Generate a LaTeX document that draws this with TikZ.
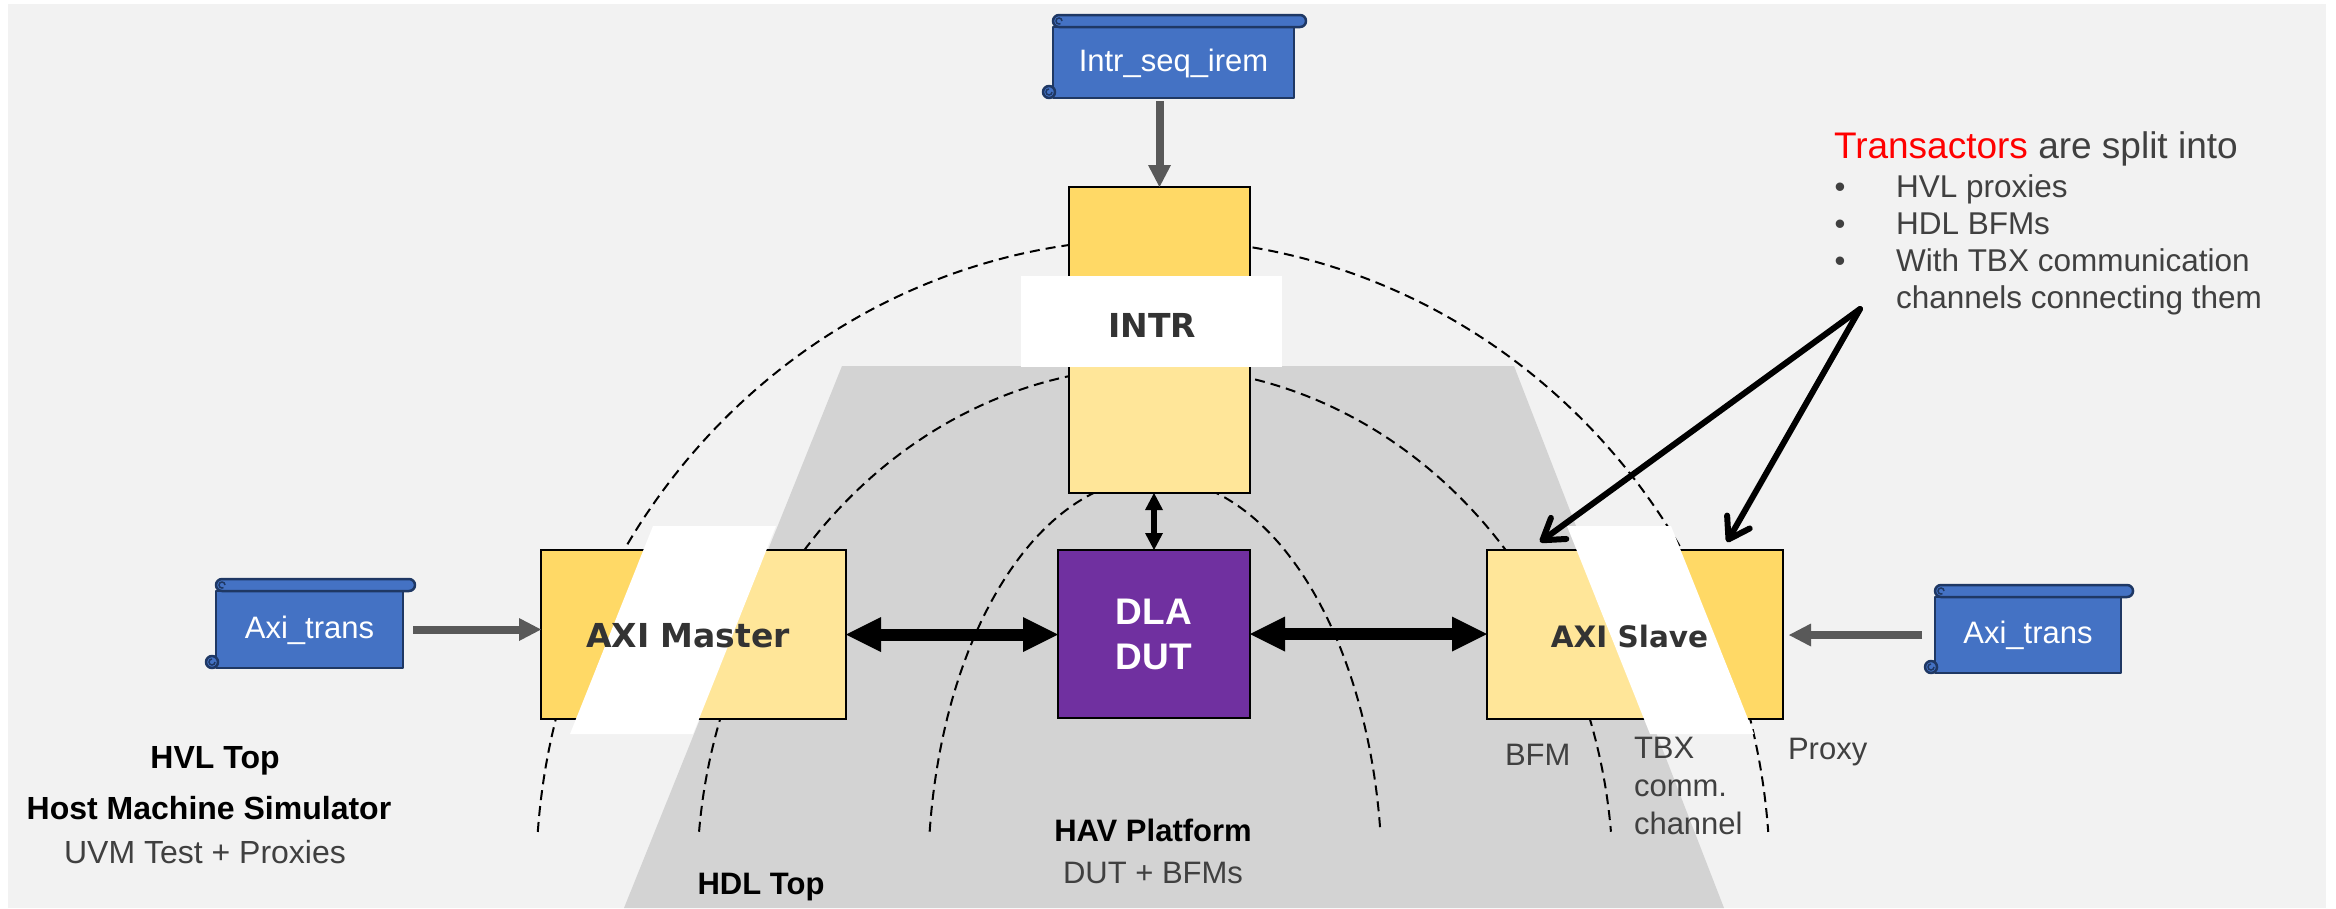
\documentclass[tikz,border=0pt]{standalone}
\usepackage{fontspec}
\setmainfont{Liberation Sans}
\newfontfamily\unitfont{DejaVu Sans}
\usetikzlibrary{arrows.meta,calc}

\definecolor{panelgray}{HTML}{F2F2F2}
\definecolor{hdlgray}{HTML}{D3D3D3}
\definecolor{proxyyellow}{HTML}{FFD966}
\definecolor{bfmyellow}{HTML}{FFE699}
\definecolor{dutpurple}{HTML}{7030A0}
\definecolor{scrollblue}{HTML}{4472C4}
\definecolor{scrollnavy}{HTML}{1F3864}
\definecolor{notegray}{HTML}{404040}
\definecolor{unitgray}{HTML}{333333}
\definecolor{feedgray}{HTML}{595959}

\newcommand\fsz[2]{\fontsize{#1}{#2}\selectfont}

% roll bar and curls of a horizontal scroll, drawn around its body node
\newcommand\scrollframe[1]{%
  \filldraw[scrollpart, rounded corners=6pt]
    ($(#1.north west)+(0,-12)$) rectangle ($(#1.north east)+(12,0)$);
  \draw[scrollnavy, line width=1.5pt]
    ($(#1.north west)+(9,-6)$) arc[start angle=0, end angle=300, radius=3pt];
  \filldraw[scrollpart] ($(#1.south west)+(-4,-6)$) circle[radius=6pt];
  \draw[scrollnavy, line width=1.5pt]
    ($(#1.south west)+(-1,-6)$) arc[start angle=0, end angle=-270, radius=3pt];
}

\tikzset{
  every node/.style={inner sep=0pt, outer sep=0pt},
  scrollpart/.style={fill=scrollblue, draw=scrollnavy, line width=2.5pt, line join=round},
  scrollbody/.style={scrollpart, text=white, font=\fsz{31}{37},
    text height=22pt, text depth=5pt},
  unitbox/.style={draw=black, line width=2pt},
  unitlabel/.style={anchor=base, text=unitgray, font=\unitfont\bfseries\fsz{33}{40}},
  plainlbl/.style={text=notegray, font=\fsz{31}{37}},
  boldlbl/.style={anchor=base, text=black, font=\bfseries\fsz{31}{37}},
  domainarc/.style={draw=black, line width=2pt, dash pattern=on 10pt off 6pt},
  feedarrow/.style={draw=feedgray, line width=8pt,
    -{Triangle[length=22pt,width=23pt,line width=0pt]}},
  busarrow/.style={draw=black, line width=12pt,
    {Triangle[length=35pt,width=35pt,line width=0pt]}-{Triangle[length=35pt,width=35pt,line width=0pt]}},
  linkarrow/.style={draw=black, line width=6pt,
    {Triangle[length=17pt,width=18pt,line width=0pt]}-{Triangle[length=17pt,width=18pt,line width=0pt]}},
  calloutarrow/.style={draw=black, line width=6pt, line cap=round,
    -{Straight Barb[length=20pt,width=26pt,line cap=round,line join=round]}},
}

\begin{document}
\begin{tikzpicture}[x=1pt, y=-1pt]
\useasboundingbox (0,0) rectangle (2336,908);
\fill[white] (0,0) rectangle (2336,908);
\fill[panelgray] (8,4) rectangle (2326,908);

% emulator (HDL) zone
\fill[hdlgray] (842,366) -- (1514,366) -- (1724,908) -- (624,908) -- cycle;

% domain boundaries
\draw[domainarc] plot[domain=184.3:355.7, samples=150, smooth]
  ({1153+617*cos(\x)}, {880+641*sin(\x)});
\draw[domainarc] plot[domain=185.4:354.6, samples=150, smooth]
  ({1155+458*cos(\x)}, {880+513*sin(\x)});
\draw[domainarc] plot[domain=186.9:353.1, samples=150, smooth]
  ({1155+227*cos(\x)}, {880+402*sin(\x)});

% proxy / BFM halves of the transactors
\fill[bfmyellow] (541,550) rectangle (846,719);
\fill[proxyyellow] (541,550) -- (705,550) -- (638,719) -- (541,719) -- cycle;
\fill[bfmyellow] (1487,550) rectangle (1783,719);
\fill[proxyyellow] (1629,550) -- (1783,550) -- (1783,719) -- (1696,719) -- cycle;
\fill[proxyyellow] (1069,187) rectangle (1250,321);
\fill[bfmyellow] (1069,321) rectangle (1250,493);

% units
\node[unitbox, minimum width=305, minimum height=169] (master) at (693.5,634.5) {};
\node[unitbox, minimum width=296, minimum height=169] (slave) at (1635,634.5) {};
\node[unitbox, minimum width=181, minimum height=306] (intr) at (1159.5,340) {};
\node[unitbox, fill=dutpurple, minimum width=192, minimum height=168, text=white,
  align=center, font=\bfseries\fsz{37}{45}] (dla) at (1154,634) {DLA\\DUT};

% TBX communication channels
\fill[white] (653,526) -- (776,526) -- (693,734) -- (570,734) -- cycle;
\fill[white] (1567,526) -- (1671,526) -- (1754,734) -- (1650,734) -- cycle;
\fill[white] (1021,276) rectangle (1282,367);

\node[unitlabel] (masterlbl) at (688,647) {AXI Master};
\node[unitlabel, font=\unitfont\bfseries\fsz{29.5}{36}] (slavelbl) at (1629.5,647) {AXI Slave};
\node[unitlabel] (intrlbl) at (1152,337) {INTR};

% sequence items
\node[scrollbody, minimum width=241, minimum height=71] (seq) at (1173.5,62.5) {Intr\_seq\_irem};
\scrollframe{seq}
\node[scrollbody, minimum width=187, minimum height=77] (axil) at (309.5,629.5) {Axi\_trans};
\scrollframe{axil}
\node[scrollbody, minimum width=186, minimum height=76] (axir) at (2028,635) {Axi\_trans};
\scrollframe{axir}

% connections
\coordinate (seqout) at ([yshift=-3pt]seq.south);
\draw[feedarrow] (seqout -| intr.north) -- (intr.north);
\coordinate (axilout) at ([xshift=10pt]axil.east);
\draw[feedarrow] (axilout) -- (axilout -| master.west);
\coordinate (axirout) at ([xshift=-13pt]axir.west);
\coordinate (slavein) at ([xshift=6pt]slave.east);
\draw[feedarrow] (axirout) -- (axirout -| slavein);
\draw[busarrow] (master.east) -- (master.east -| dla.west);
\draw[busarrow] (dla.east) -- (dla.east -| slave.west);
\draw[linkarrow] (dla.north |- intr.south) -- (dla.north);

% transactor note
\node[anchor=base west, text=notegray, font=\fsz{37}{44}] (txhead) at (1834,158)
  {\textcolor{red}{Transactors} are split into};
\node[plainlbl, anchor=base] (dot1) at (1840,197) {•};
\node[plainlbl, anchor=base west, font=\fsz{31.5}{37}] (item1) at (1896,197) {HVL proxies};
\node[plainlbl, anchor=base] (dot2) at (1840,234) {•};
\node[plainlbl, anchor=base west, font=\fsz{31.5}{37}] (item2) at (1896,234) {HDL BFMs};
\node[plainlbl, anchor=base] (dot3) at (1840,271) {•};
\node[plainlbl, anchor=base west, font=\fsz{31.5}{37}] (item3) at (1896,271) {With TBX communication};
\node[plainlbl, anchor=base west, font=\fsz{31.5}{37}] (item3b) at (1896,308) {channels connecting them};

\coordinate (tsrc) at (1860,309);
\coordinate (tipbfm) at (1540,542);
\coordinate (tipproxy) at (1727,542);
\draw[calloutarrow] (tsrc) -- (tipbfm);
\draw[calloutarrow] (tsrc) -- (tipproxy);

% part labels
\node[plainlbl, anchor=base west] (bfmlbl) at (1505,765) {BFM};
\node[plainlbl, anchor=north west, align=left, font=\fsz{31}{38}] (tbxlbl) at (1634,737)
  {TBX\\comm.\\channel};
\node[plainlbl, anchor=base west] (proxylbl) at (1788,759) {Proxy};

% domain labels
\node[boldlbl, font=\bfseries\fsz{32}{38}] (hvltop) at (215,768) {HVL Top};
\node[boldlbl, font=\bfseries\fsz{32}{38}] (hostsim) at (209,819) {Host Machine Simulator};
\node[plainlbl, anchor=base, font=\fsz{32}{38}] (uvmtest) at (205,863) {UVM Test + Proxies};
\node[boldlbl] (havplat) at (1153,841) {HAV Platform};
\node[plainlbl, anchor=base] (dutbfm) at (1153,883) {DUT + BFMs};
\node[boldlbl] (hdltop) at (761,894) {HDL Top};
\end{tikzpicture}
\end{document}
